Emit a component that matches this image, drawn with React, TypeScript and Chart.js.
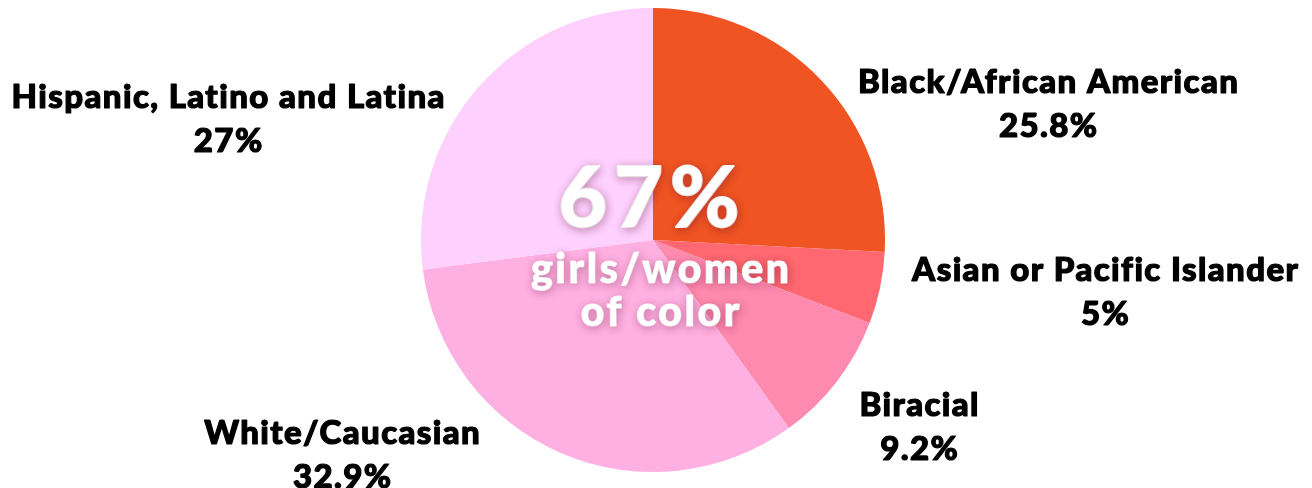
import React, { useEffect, useRef } from "react";
import { Chart, registerables } from "chart.js";

Chart.register(...registerables);

const categories = [
  "Black/African American",
  "Asian or Pacific Islander",
  "Biracial",
  "White/Caucasian",
  "Hispanic, Latino and Latina",
];
const values = [25.8, 5, 9.2, 32.9, 27];
const valueLabels = ["25.8%", "5%", "9.2%", "32.9%", "27%"];
const colors = ["#F05423", "#FF6870", "#FF8AB0", "#FFB0E2", "#FDD0FD"];
const centerTitle = "67%";
const centerLines = ["girls/women", "of color"];

// label anchor positions (layout only)
const labelAnchors = [
  { x: 1048, y: 82 },
  { x: 1105, y: 270 },
  { x: 919, y: 405 },
  { x: 342, y: 433 },
  { x: 228, y: 97 },
];

const FONT = "Lato, 'Open Sans', sans-serif";

function spacedText(ctx: any, text: string, x: number, y: number, spacing: number, stroke: number) {
  ctx.letterSpacing = `${spacing}px`;
  if (stroke > 0) {
    ctx.lineWidth = stroke;
    ctx.lineJoin = "round";
    ctx.strokeText(text, x + spacing / 2, y);
  }
  ctx.fillText(text, x + spacing / 2, y);
  ctx.letterSpacing = "0px";
}

const labelPlugin = {
  id: "customLabels",
  afterDraw(chart: any) {
    const ctx = chart.ctx;
    const meta = chart.getDatasetMeta(0);
    const arc = meta.data[0];
    const cx = arc.x;
    const cy = arc.y;
    ctx.save();
    ctx.textAlign = "center";
    ctx.textBaseline = "middle";
    ctx.fillStyle = "#000";
    ctx.strokeStyle = "#000";
    categories.forEach((c, i) => {
      const a = labelAnchors[i];
      ctx.font = `900 33px ${FONT}`;
      spacedText(ctx, c, a.x, a.y, 1.4, 1.2);
      spacedText(ctx, valueLabels[i], a.x, a.y + 44, 1.4, 1.2);
    });
    ctx.shadowColor = "rgba(90,0,40,0.3)";
    ctx.shadowBlur = 8;
    ctx.shadowOffsetX = 1;
    ctx.shadowOffsetY = 2;
    ctx.fillStyle = "#fff";
    ctx.strokeStyle = "#fff";
    ctx.font = `900 84px ${FONT}`;
    spacedText(ctx, centerTitle, cx - 4, cy - 40, 7, 2);
    ctx.font = `900 41px ${FONT}`;
    spacedText(ctx, centerLines[0], cx + 7, cy + 30, 2.6, 1.2);
    spacedText(ctx, centerLines[1], cx + 7, cy + 73, 2.6, 1.2);
    ctx.restore();
  },
};

export default function App() {
  const ref = useRef<HTMLCanvasElement>(null);
  useEffect(() => {
    if (!ref.current) return;
    const chart = new Chart(ref.current, {
      type: "pie",
      data: {
        labels: categories,
        datasets: [
          {
            data: values,
            backgroundColor: colors,
            borderWidth: 0,
          },
        ],
      },
      options: {
        animation: false,
        responsive: false,
        maintainAspectRatio: false,
        layout: { padding: { left: 421, right: 427, top: 8, bottom: 16 } },
        plugins: {
          legend: { display: false },
          tooltip: { enabled: false },
        },
      },
      plugins: [labelPlugin],
    });
    return () => chart.destroy();
  }, []);
  return (
    <div style={{ position: "fixed", left: 0, top: 0, width: 1312, height: 488, background: "#fff" }}>
      <canvas ref={ref} width={1312} height={488} style={{ width: 1312, height: 488 }} />
    </div>
  );
}
